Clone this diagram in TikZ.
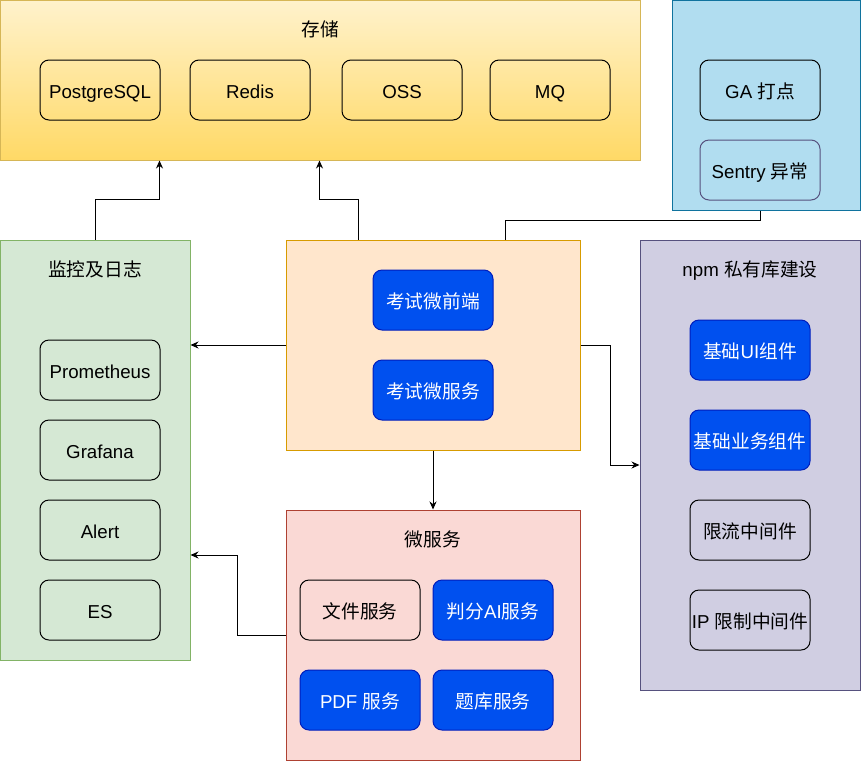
\documentclass[tikz,border=0pt]{standalone}
\usepackage{fontspec}
\setmainfont{Liberation Sans}
\newfontfamily\cjk{Noto Sans CJK SC}
\usetikzlibrary{arrows.meta}
\definecolor{storetop}{HTML}{FFF2CC}
\definecolor{storebot}{HTML}{FFD966}
\definecolor{storeline}{HTML}{D6B656}
\definecolor{trackfill}{HTML}{B1DDF0}
\definecolor{trackline}{HTML}{10739E}
\definecolor{monfill}{HTML}{D5E8D4}
\definecolor{monline}{HTML}{82B366}
\definecolor{examfill}{HTML}{FFE6CC}
\definecolor{examline}{HTML}{D79B00}
\definecolor{npmfill}{HTML}{D0CEE2}
\definecolor{npmline}{HTML}{56517E}
\definecolor{microfill}{HTML}{FAD9D5}
\definecolor{microline}{HTML}{AE4132}
\definecolor{blueitem}{HTML}{0050EF}
\definecolor{blueline}{HTML}{001DBC}

\begin{document}
\begin{tikzpicture}[x=1pt, y=-1pt]
\tikzstyle{group} = [rectangle, line width=1pt, inner sep=0pt]
\tikzstyle{item} = [rectangle, rounded corners=9pt, draw=black, line width=1pt, minimum width=120pt, minimum height=60pt, inner sep=0pt, text height=18pt, text depth=2pt, font=\fontsize{18.7}{20}\selectfont]
\tikzstyle{bitem} = [item, fill=blueitem, draw=blueline, text=white]
\tikzstyle{title} = [text height=18pt, text depth=2pt, font=\fontsize{18.7}{20}\selectfont]
\tikzstyle{edge} = [-{Stealth[length=8pt, width=7pt]}, line width=1pt]
\useasboundingbox (0, 0) rectangle (861, 761);
\node[group, draw=storeline, top color=storetop, bottom color=storebot, minimum width=640pt, minimum height=160pt] (store) at (320, 80) {};
\node[group, draw=trackline, fill=trackfill, minimum width=188pt, minimum height=210pt] (track) at (766, 105) {};
\node[group, draw=monline, fill=monfill, minimum width=190pt, minimum height=420pt] (mon) at (95, 450) {};
\node[group, draw=examline, fill=examfill, minimum width=294pt, minimum height=210pt] (exam) at (433, 345) {};
\node[group, draw=npmline, fill=npmfill, minimum width=220pt, minimum height=450pt] (npm) at (750, 465) {};
\node[group, draw=microline, fill=microfill, minimum width=294pt, minimum height=250pt] (micro) at (433, 635) {};
\node[title] (storet) at (320, 28) {\cjk 存储};
\node[title] (mont) at (95, 268) {\cjk 监控及日志};
\node[title] (npmt) at (750, 268) {npm {\cjk 私有库建设}};
\node[title] (microt) at (433, 538) {\cjk 微服务};
\node[item] (pg) at (100, 90) {PostgreSQL};
\node[item] (redis) at (250, 90) {Redis};
\node[item] (oss) at (402, 90) {OSS};
\node[item] (mq) at (550, 90) {MQ};
\node[item] (ga) at (760, 90) {GA {\cjk 打点}};
\node[item, draw=npmline] (sentry) at (760, 170) {Sentry {\cjk 异常}};
\node[item] (prom) at (100, 370) {Prometheus};
\node[item] (graf) at (100, 450) {Grafana};
\node[item] (alert) at (100, 530) {Alert};
\node[item] (es) at (100, 610) {ES};
\node[bitem] (fe) at (433, 300) {\cjk 考试微前端};
\node[bitem] (svc) at (433, 390) {\cjk 考试微服务};
\node[bitem] (ui) at (750, 350) {{\cjk 基础}UI{\cjk 组件}};
\node[bitem] (biz) at (750, 440) {\cjk 基础业务组件};
\node[item] (rate) at (750, 530) {\cjk 限流中间件};
\node[item] (ip) at (750, 620) {IP {\cjk 限制中间件}};
\node[item] (file) at (360, 610) {\cjk 文件服务};
\node[bitem] (ai) at (493, 610) {{\cjk 判分}AI{\cjk 服务}};
\node[bitem] (pdf) at (360, 700) {PDF {\cjk 服务}};
\node[bitem] (bank) at (493, 700) {\cjk 题库服务};
\draw[edge] (mon.north) -- ++(0, -40) -| ([xshift=160pt]store.south west);
\draw[edge] ([xshift=-75pt]exam.north) -- ++(0, -40) -| ([xshift=320pt]store.south west);
\draw[line width=1pt] (sentry.south |- track.south) -- ++(0, 10) -| ([xshift=220pt]exam.north west);
\draw[edge] (exam.west) -- (exam.west -| mon.east);
\draw[edge] (exam.south) -- (micro.north);
\draw[edge] (exam.east) -- ++(30, 0) |- (npm.west);
\draw[edge] (micro.west) -- ++(-48, 0) |- ([yshift=-105pt]mon.east);
\end{tikzpicture}
\end{document}
